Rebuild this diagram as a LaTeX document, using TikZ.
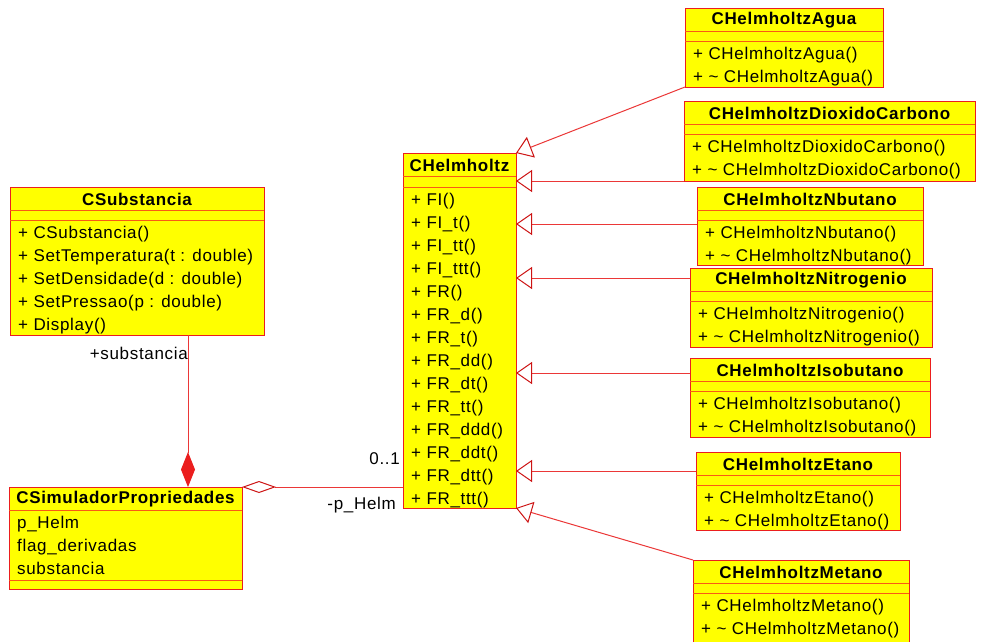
\documentclass[tikz,border=0pt]{standalone}
\usepackage{fontspec}
\setmainfont[LetterSpace=4]{Liberation Sans}
\usetikzlibrary{calc,arrows.meta}

\definecolor{umlyellow}{RGB}{255,255,0}
\definecolor{umlred}{RGB}{235,30,30}
\definecolor{umlsep}{RGB}{250,90,20}
\definecolor{linkred}{RGB}{235,55,55}
\definecolor{tipred}{RGB}{205,20,20}

\newcommand{\umlclass}[9]{%
  \node[classbox,minimum width=#4pt,minimum height=#5pt] (#1) at (#2,#3) {};
  \node[classtitle] (#1-title) at ($(#1.north)+(0,12.5)$) {#6};
  \draw[classsep] ($(#1.north west)+(0,23)$) -- ($(#1.north east)+(0,23)$);
  \draw[classsep] ($(#1.north west)+(0,#7)$) -- ($(#1.north east)+(0,#7)$);
  \foreach \row [count=\i] in {#9}
    \node[classrow] (#1-\i) at ($(#1.north west)+(0,#8+23*\i-8.5)$) {\row};
}

\begin{document}
\begin{tikzpicture}[x=1pt,y=-1pt,
  classbox/.style={draw=umlred,fill=umlyellow,line width=1pt,anchor=north west,inner sep=0pt,outer sep=0pt},
  classsep/.style={draw=umlsep,line width=1pt},
  classtitle/.style={font=\fontsize{17}{20}\selectfont\bfseries,inner sep=0pt},
  classrow/.style={font=\fontsize{17}{20}\selectfont,anchor=west,inner xsep=8pt,inner ysep=0pt,text height=12.4pt,text depth=3.6pt},
  lbl/.style={font=\fontsize{17}{20}\selectfont,inner sep=0pt},
  link/.style={draw=linkred,line width=1pt},
  gen/.style={link,-{Triangle[open,length=16pt,width=22pt,color=tipred]}}]

\useasboundingbox[fill=white] (0,0) rectangle (993,641);

\umlclass{csub}{10}{187}{254}{148}{CSubstancia}{33}{33}{+ CSubstancia(),+ SetTemperatura(t : double),+ SetDensidade(d : double),+ SetPressao(p : double),+ Display()}
\umlclass{sim}{9}{487}{233}{102}{CSimuladorPropriedades}{93}{23}{p\_Helm,flag\_derivadas,substancia}
\umlclass{helm}{403}{153}{113}{355}{CHelmholtz}{34}{34}{+ FI(),+ FI\_t(),+ FI\_tt(),+ FI\_ttt(),+ FR(),+ FR\_d(),+ FR\_t(),+ FR\_dd(),+ FR\_dt(),+ FR\_tt(),+ FR\_ddd(),+ FR\_ddt(),+ FR\_dtt(),+ FR\_ttt()}
\umlclass{agua}{685}{8}{198}{79}{CHelmholtzAgua}{33}{33}{+ CHelmholtzAgua(),+ \textasciitilde\ CHelmholtzAgua()}
\umlclass{dioxido}{684}{101}{291}{80}{CHelmholtzDioxidoCarbono}{33}{33}{+ CHelmholtzDioxidoCarbono(),+ \textasciitilde\ CHelmholtzDioxidoCarbono()}
\umlclass{nbutano}{697}{187}{226}{78}{CHelmholtzNbutano}{33}{33}{+ CHelmholtzNbutano(),+ \textasciitilde\ CHelmholtzNbutano()}
\umlclass{nitro}{690}{268}{242}{79}{CHelmholtzNitrogenio}{33}{33}{+ CHelmholtzNitrogenio(),+ \textasciitilde\ CHelmholtzNitrogenio()}
\umlclass{isobutano}{690}{358}{240}{79}{CHelmholtzIsobutano}{33}{33}{+ CHelmholtzIsobutano(),+ \textasciitilde\ CHelmholtzIsobutano()}
\umlclass{etano}{696}{452}{204}{78}{CHelmholtzEtano}{33}{33}{+ CHelmholtzEtano(),+ \textasciitilde\ CHelmholtzEtano()}
\umlclass{metano}{693}{560}{216}{84}{CHelmholtzMetano}{33}{33}{+ CHelmholtzMetano(),+ \textasciitilde\ CHelmholtzMetano()}

\coordinate (c1) at ($(csub.south west)+(178,0)$);
\draw[link,-{Diamond[length=35pt,width=14pt,color=umlred,fill=umlred]}] (c1) -- (c1 |- sim.north);
\node[lbl,anchor=east] (sublbl) at ($(c1)+(0,18)$) {+substancia};

\draw[link,{Diamond[open,length=34pt,width=12pt,color=tipred]}-] (sim.north east) -- (sim.north east -| helm.west);
\node[lbl,anchor=east] (multlbl) at ($(helm.west |- sim.north)+(-3,-28)$) {0..1};
\node[lbl,anchor=east] (rolelbl) at ($(helm.west |- sim.north)+(-7,18)$) {-p\_Helm};

\draw[gen] (agua.south west) -- (helm.north east);
\draw[gen] (dioxido.south west) -- (dioxido.south west -| helm.east);
\draw[gen] ([yshift=-37pt]nbutano.north west) coordinate (g3) -- (g3 -| helm.east);
\draw[gen] ([yshift=-10pt]nitro.north west) coordinate (g4) -- (g4 -| helm.east);
\draw[gen] ([yshift=-15pt]isobutano.north west) coordinate (g5) -- (g5 -| helm.east);
\draw[gen] ([yshift=-19pt]etano.north west) coordinate (g6) -- (g6 -| helm.east);
\draw[gen] (metano.north west) -- (helm.south east);

\end{tikzpicture}
\end{document}
